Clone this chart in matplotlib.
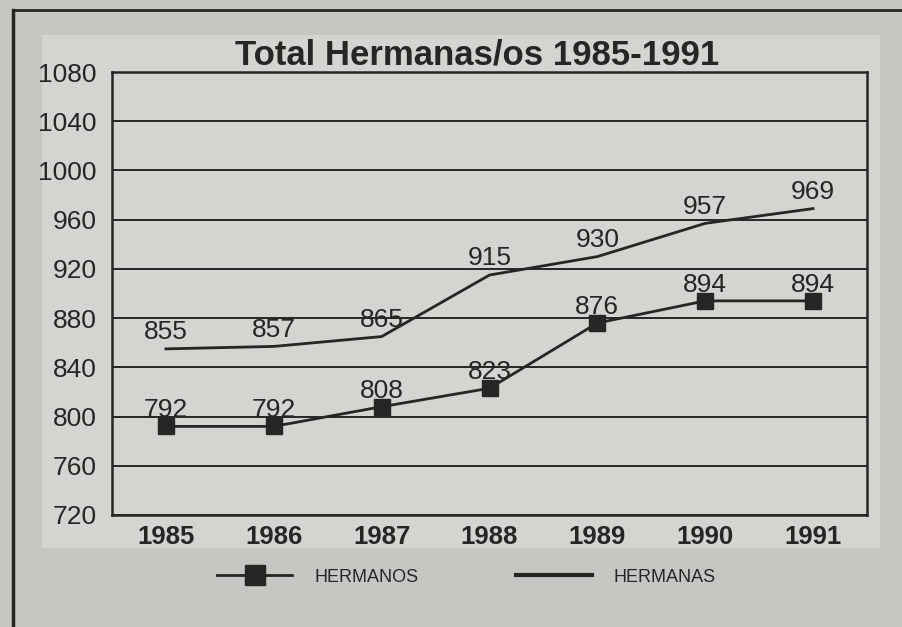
import matplotlib
matplotlib.use("Agg")
import matplotlib.pyplot as plt
from matplotlib.lines import Line2D
from matplotlib.patches import Rectangle

plt.rcParams['font.family'] = ['Liberation Sans', 'DejaVu Sans']

years = ["1985", "1986", "1987", "1988", "1989", "1990", "1991"]
hermanos = [792, 792, 808, 823, 876, 894, 894]
hermanas = [855, 857, 865, 915, 930, 957, 969]
yticks = [720, 760, 800, 840, 880, 920, 960, 1000, 1040, 1080]
title = "Total Hermanas/os 1985-1991"
legend_labels = ["HERMANOS", "HERMANAS"]

ink = "#262626"
bg = "#c6c6c2"
panel = "#d4d4d0"

fig = plt.figure(figsize=(9.02, 6.27), dpi=100)
fig.patch.set_facecolor(bg)

# lighter panel and outer border (page decoration)
fig.add_artist(Rectangle((42/902, 1-548/627), (880-42)/902, (548-35)/627,
                         transform=fig.transFigure, facecolor=panel,
                         edgecolor='none', zorder=0))
fig.add_artist(Line2D([13/902, 13/902], [0, 1-10/627], transform=fig.transFigure,
                      color=ink, lw=2.5))
fig.add_artist(Line2D([13/902, 1], [1-10/627, 1-10/627], transform=fig.transFigure,
                      color=ink, lw=2.0))

ax = fig.add_axes([112/902, 1-515/627, (867-112)/902, (515-72)/627])
ax.set_facecolor('none')
x = list(range(len(years)))

ax.plot(x, hermanas, color=ink, lw=2.0, zorder=3)
ax.plot(x, hermanos, color=ink, lw=2.0, marker='s', markersize=11.5,
        markerfacecolor=ink, markeredgecolor=ink, zorder=3)

for xi, v in zip(x, hermanas):
    ax.annotate(str(v), (xi, v), xytext=(0, 12), textcoords='offset points',
                ha='center', va='center', fontsize=19, color=ink, zorder=4)
for xi, v in zip(x, hermanos):
    ax.annotate(str(v), (xi, v), xytext=(0, 11.5), textcoords='offset points',
                ha='center', va='center', fontsize=19, color=ink, zorder=4)

ax.set_xlim(-0.5, len(years) - 0.5)
ax.set_ylim(720, 1080)
ax.set_yticks(yticks)
ax.set_yticklabels([str(t) for t in yticks], fontsize=19, color=ink)
ax.set_xticks(x)
ax.set_xticklabels(years, fontsize=18.5, fontweight='bold', color=ink)
ax.tick_params(axis='y', length=0, pad=11)
ax.tick_params(axis='x', length=0, pad=7)
ax.yaxis.grid(True, color=ink, lw=1.4)
ax.set_axisbelow(True)
for s in ax.spines.values():
    s.set_color(ink)
    s.set_linewidth(1.8)

fig.text(477/902, 1-55/627, title, ha='center', va='center', fontsize=25,
         fontweight='bold', color=ink)

handles = [Line2D([], [], color=ink, lw=2.0, marker='s', markersize=15,
                  markerfacecolor=ink, markeredgecolor=ink),
           Line2D([], [], color=ink, lw=3.0)]
fig.legend(handles, legend_labels, loc='center', bbox_to_anchor=(466/902, 1-577/627),
           ncol=2, frameon=False, fontsize=13, handlelength=4.2,
           handletextpad=1.2, columnspacing=5.4, labelcolor=ink)

fig.savefig("out.png", dpi=100, facecolor=fig.get_facecolor())
